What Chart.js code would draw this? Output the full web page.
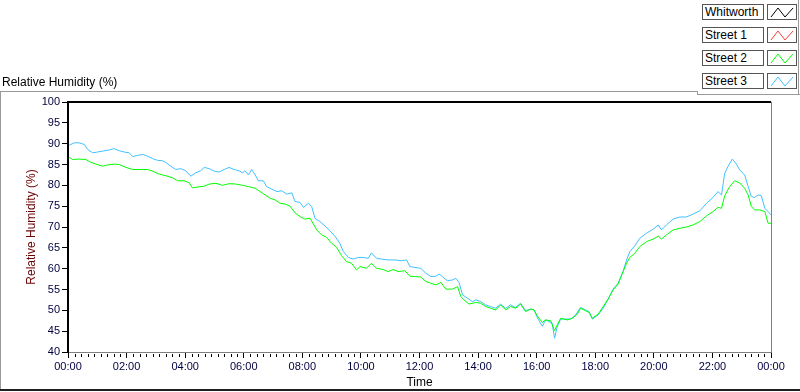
<!DOCTYPE html>
<html>
<head>
<meta charset="utf-8">
<script src="https://cdn.jsdelivr.net/npm/chart.js@4"></script>
<style>
body { margin: 0; background: #fff; font-family: "Liberation Sans", Arial, sans-serif; }
#wrap { position: relative; width: 800px; height: 392px; overflow: hidden; }
#chart { position: absolute; left: 0; top: 0; }
.ln { position: absolute; background: #9a9a9a; }
#title { position: absolute; left: 2px; top: 75px; font-size: 12px; color: #000; }
.lgName { position: absolute; left: 702px; width: 58px; height: 14px; border: 1px solid #555; font-size: 12px; line-height: 14px; padding-left: 2px; background: #fff; color: #000; }
.lgIcon { position: absolute; left: 767px; width: 28px; height: 14px; border: 1px solid #555; background: #fff; }
</style>
</head>
<body>
<div id="wrap">
  <canvas id="chart" width="800" height="392"></canvas>
  <div class="ln" style="left:0;top:91px;width:697px;height:1px"></div>
  <div class="ln" style="left:697px;top:91px;width:1px;height:4px"></div>
  <div class="ln" style="left:697px;top:94px;width:103px;height:1px"></div>
  <div class="ln" style="left:798px;top:0;width:1px;height:95px"></div>
  <div class="ln" style="left:0;top:91px;width:1px;height:300px"></div>
  <div class="ln" style="left:0;top:389px;width:800px;height:2px;background:#202020"></div>
  <div id="title">Relative Humidity (%)</div>
  <div id="legend"></div>
</div>
<script>
'use strict';

// series
var seriesNames = ['Whitworth', 'Street 1', 'Street 2', 'Street 3'];
var seriesColors = ['#000000', '#ff3c3c', '#00ff00', '#40c0ff'];

// Whitworth and Street 1 have no samples in this plot
var whitworthHours = [];
var whitworthValues = [];
var street1Hours = [];
var street1Values = [];

// Street 2 (green), time in hours since 00:00
var street2Hours = [0.04, 0.16, 0.38, 0.61, 0.78, 0.95, 1.18, 1.35, 1.58, 1.75, 1.98, 2.21, 2.43, 2.72, 2.89, 3.11, 3.34, 3.57, 3.74, 3.96,
  4.14, 4.25, 4.42, 4.65, 4.82, 5.05, 5.27, 5.50, 5.73, 5.96, 6.16, 6.39, 6.56, 6.73, 6.90, 7.07, 7.24, 7.41, 7.58, 7.75,
  7.92, 8.09, 8.26, 8.38, 8.49, 8.66, 8.83, 9.00, 9.17, 9.34, 9.51, 9.68, 9.85, 9.97, 10.19, 10.36, 10.53, 10.76, 10.93, 11.10,
  11.27, 11.50, 11.67, 11.84, 12.04, 12.22, 12.39, 12.56, 12.73, 12.90, 13.13, 13.30, 13.41, 13.52, 13.69, 13.92, 14.09, 14.26, 14.43, 14.60,
  14.77, 14.94, 15.11, 15.28, 15.45, 15.62, 15.79, 15.91, 16.02, 16.19, 16.31, 16.48, 16.61, 16.70, 16.82, 17.05, 17.22, 17.39, 17.50, 17.67,
  17.79, 17.90, 18.10, 18.27, 18.44, 18.61, 18.78, 18.95, 19.07, 19.18, 19.35, 19.52, 19.75, 19.98, 20.15, 20.26, 20.43, 20.66, 20.89, 21.11,
  21.34, 21.57, 21.80, 22.02, 22.19, 22.31, 22.42, 22.59, 22.76, 22.93, 23.10, 23.22, 23.33, 23.44, 23.61, 23.79, 23.90, 24.00];
var street2Values = [86.7, 86.2, 86.3, 86.2, 85.5, 85.1, 84.6, 84.9, 85.1, 85.0, 84.3, 83.8, 83.8, 83.8, 83.4, 82.7, 82.3, 81.8, 81.1, 81.1,
  80.6, 79.4, 79.6, 79.8, 80.3, 80.5, 80.0, 80.4, 80.3, 80.0, 79.7, 79.3, 78.5, 77.7, 76.9, 76.5, 75.7, 75.5, 75.0, 73.4,
  72.5, 71.9, 72.1, 70.7, 69.3, 68.1, 67.5, 66.1, 65.1, 63.1, 61.7, 61.3, 59.7, 60.5, 60.1, 61.3, 60.1, 59.8, 59.3, 59.8,
  59.3, 59.5, 58.2, 58.1, 58.0, 56.9, 56.5, 56.1, 56.7, 55.1, 55.1, 55.7, 53.3, 52.5, 51.5, 51.9, 51.7, 50.9, 50.5, 50.1,
  51.3, 50.1, 50.9, 50.5, 51.5, 49.7, 50.3, 50.1, 48.7, 47.1, 47.7, 47.5, 45.1, 46.5, 48.1, 47.7, 48.1, 49.1, 50.5, 49.9,
  49.5, 48.1, 49.1, 50.9, 52.7, 54.9, 56.3, 59.3, 61.3, 62.7, 63.7, 65.3, 66.5, 67.1, 67.8, 67.1, 68.1, 69.3, 69.7, 70.0,
  70.5, 71.3, 72.7, 73.7, 74.7, 74.5, 77.5, 79.7, 81.1, 80.6, 79.3, 77.7, 74.9, 74.1, 74.1, 73.7, 70.9, 70.9];

// Street 3 (blue)
var street3Hours = [0.04, 0.21, 0.38, 0.56, 0.67, 0.84, 1.01, 1.18, 1.41, 1.58, 1.75, 1.92, 2.09, 2.21, 2.38, 2.55, 2.72, 2.89, 3.06, 3.23,
  3.34, 3.51, 3.68, 3.85, 4.02, 4.19, 4.36, 4.53, 4.65, 4.82, 4.99, 5.16, 5.33, 5.50, 5.67, 5.84, 5.96, 6.04, 6.16, 6.27,
  6.39, 6.50, 6.67, 6.78, 6.95, 7.13, 7.30, 7.47, 7.64, 7.75, 7.92, 8.04, 8.21, 8.32, 8.43, 8.60, 8.77, 8.94, 9.11, 9.28,
  9.40, 9.57, 9.74, 9.91, 10.08, 10.25, 10.36, 10.53, 10.70, 10.93, 11.16, 11.39, 11.56, 11.67, 11.84, 12.04, 12.22, 12.39, 12.56, 12.67,
  12.78, 12.95, 13.13, 13.24, 13.35, 13.47, 13.64, 13.81, 13.92, 14.09, 14.26, 14.43, 14.60, 14.77, 14.94, 15.11, 15.28, 15.45, 15.62, 15.79,
  15.91, 16.02, 16.19, 16.31, 16.42, 16.53, 16.61, 16.70, 16.82, 16.99, 17.16, 17.33, 17.50, 17.67, 17.79, 17.90, 18.10, 18.27, 18.44, 18.61,
  18.78, 18.95, 19.07, 19.18, 19.35, 19.52, 19.75, 19.98, 20.15, 20.26, 20.43, 20.66, 20.89, 21.11, 21.34, 21.57, 21.80, 22.02, 22.19, 22.31,
  22.42, 22.53, 22.68, 22.82, 22.93, 23.10, 23.22, 23.33, 23.44, 23.56, 23.67, 23.79, 23.90, 24.00];
var street3Values = [89.6, 90.2, 90.2, 89.8, 88.6, 87.8, 88.0, 88.2, 88.5, 88.8, 88.3, 88.0, 87.8, 86.9, 87.2, 87.4, 87.0, 86.4, 86.0, 85.9,
  85.5, 84.6, 83.8, 84.0, 83.5, 82.2, 83.0, 83.5, 84.3, 84.0, 83.4, 83.2, 83.8, 84.3, 83.8, 83.5, 83.0, 83.5, 82.5, 83.8,
  82.5, 81.1, 81.1, 79.7, 79.1, 78.5, 78.7, 77.9, 78.2, 76.1, 75.9, 74.7, 75.7, 74.9, 72.1, 71.3, 70.3, 69.1, 67.8, 66.1,
  64.1, 62.7, 62.3, 62.7, 62.7, 62.5, 63.8, 62.5, 62.3, 62.1, 62.1, 61.9, 62.1, 60.5, 60.3, 60.1, 58.9, 58.1, 58.2, 58.7,
  58.1, 57.1, 57.3, 57.7, 56.7, 53.7, 52.9, 52.1, 52.5, 52.1, 51.3, 50.9, 50.5, 51.5, 50.5, 51.3, 50.7, 51.7, 49.9, 50.3,
  50.1, 48.3, 46.2, 47.7, 47.3, 46.9, 43.3, 46.0, 47.9, 47.9, 47.9, 48.9, 50.7, 50.1, 49.7, 47.9, 48.9, 50.5, 52.7, 55.1,
  56.5, 59.3, 62.1, 64.1, 65.5, 67.3, 68.5, 69.5, 70.5, 69.3, 70.5, 71.9, 72.4, 72.4, 73.1, 73.9, 75.7, 77.1, 78.5, 77.7,
  82.9, 84.5, 86.3, 85.1, 83.7, 82.5, 79.7, 77.3, 77.1, 77.7, 77.5, 74.5, 73.7, 72.9];

// axes
var yMin = 40, yMax = 100, yStep = 5;
var xMin = 0, xMax = 24, xStep = 2;
var minorPerMajor = 9;

function toPoints(hours, values) {
  return hours.map(function (h, i) { return { x: h, y: values[i] }; });
}

function hourLabel(h) {
  var hh = Math.round(h) % 24;
  return (hh < 10 ? '0' : '') + hh + ':00';
}

// legend boxes
var legend = document.getElementById('legend');
seriesNames.forEach(function (name, i) {
  var top = 4 + i * 23;
  var box = document.createElement('div');
  box.className = 'lgName';
  box.style.top = top + 'px';
  box.textContent = name;
  legend.appendChild(box);
  var icon = document.createElement('div');
  icon.className = 'lgIcon';
  icon.style.top = top + 'px';
  icon.innerHTML = '<svg width="28" height="14"><polyline points="3,12 10,3 17,12 25,3" fill="none" stroke="' +
    seriesColors[i] + '" stroke-width="1"/></svg>';
  legend.appendChild(icon);
});

var framePlugin = {
  id: 'frame',
  afterDraw: function (chart) {
    var a = chart.chartArea;
    var ctx = chart.ctx;
    var xs = chart.scales.x;
    ctx.save();
    // minor ticks under the time axis
    ctx.strokeStyle = '#000';
    ctx.lineWidth = 1;
    ctx.beginPath();
    var n = (xMax - xMin) / xStep * minorPerMajor;
    for (var k = 0; k <= n; k++) {
      if (k % minorPerMajor === 0) continue;
      var px = Math.round(xs.getPixelForValue(xMin + k * xStep / minorPerMajor)) + 0.5;
      ctx.moveTo(px, a.bottom + 2);
      ctx.lineTo(px, a.bottom + 5);
    }
    ctx.stroke();
    // light right / bottom edge
    ctx.strokeStyle = '#808080';
    ctx.beginPath();
    ctx.moveTo(a.right + 0.5, a.top);
    ctx.lineTo(a.right + 0.5, a.bottom + 0.5);
    ctx.lineTo(a.left, a.bottom + 0.5);
    ctx.stroke();
    // dark top / left edge
    ctx.fillStyle = '#000';
    ctx.fillRect(a.left - 1, a.top - 1, a.right - a.left + 1, 2);
    ctx.fillRect(a.left - 1, a.top - 1, 2, a.bottom - a.top + 2);
    ctx.restore();
  }
};

var ctx = document.getElementById('chart').getContext('2d');
var chart = new Chart(ctx, {
  type: 'line',
  data: {
    datasets: [
      { label: seriesNames[0], data: toPoints(whitworthHours, whitworthValues), borderColor: seriesColors[0] },
      { label: seriesNames[1], data: toPoints(street1Hours, street1Values), borderColor: seriesColors[1] },
      { label: seriesNames[2], data: toPoints(street2Hours, street2Values), borderColor: seriesColors[2] },
      { label: seriesNames[3], data: toPoints(street3Hours, street3Values), borderColor: seriesColors[3] }
    ]
  },
  options: {
    responsive: false,
    animation: false,
    events: [],
    layout: { padding: { left: 0, top: 102, right: 29, bottom: 0 } },
    elements: {
      point: { radius: 0 },
      line: { borderWidth: 1, tension: 0 }
    },
    plugins: {
      legend: { display: false },
      tooltip: { enabled: false }
    },
    scales: {
      x: {
        type: 'linear',
        min: xMin,
        max: xMax,
        afterFit: function (scale) { scale.height = 40; },
        border: { display: false },
        grid: { drawOnChartArea: false, tickLength: 6, tickColor: '#000' },
        ticks: {
          stepSize: xStep,
          autoSkip: false,
          maxRotation: 0,
          padding: 2,
          color: '#000040',
          font: { family: 'Liberation Sans', size: 11 },
          callback: function (v) { return hourLabel(v); }
        },
        title: {
          display: true,
          text: 'Time',
          color: '#000',
          padding: { top: 0, bottom: 2 },
          font: { family: 'Liberation Sans', size: 12 }
        }
      },
      y: {
        min: yMin,
        max: yMax,
        afterFit: function (scale) { scale.width = 68; },
        border: { display: false },
        grid: { drawOnChartArea: false, tickLength: 6, tickColor: '#000' },
        ticks: {
          stepSize: yStep,
          padding: 2,
          color: '#000040',
          font: { family: 'Liberation Sans', size: 11 }
        },
        title: {
          display: true,
          text: 'Relative Humidity (%)',
          color: '#6a0000',
          padding: { top: 24, bottom: 0 },
          font: { family: 'Liberation Sans', size: 12 }
        }
      }
    }
  },
  plugins: [framePlugin]
});
</script>
</body>
</html>
